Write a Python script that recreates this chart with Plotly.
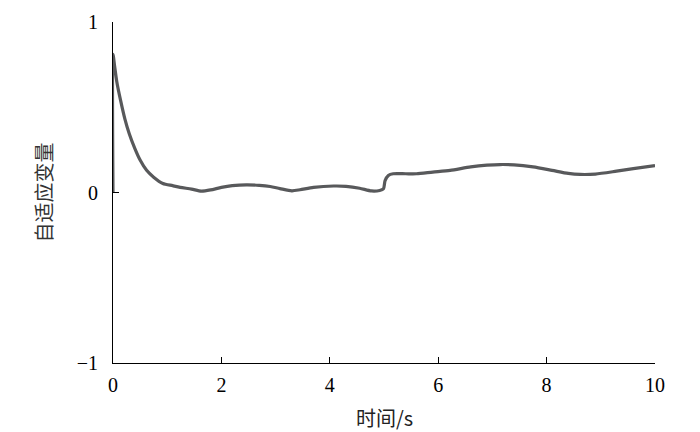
import plotly.graph_objects as go

t = [0, 0, 0.03, 0.07, 0.14, 0.22, 0.30, 0.40, 0.50, 0.62, 0.75, 0.92, 1.1, 1.24, 1.45, 1.63,
     1.8, 2.0, 2.2, 2.46, 2.7, 2.9, 3.08, 3.3, 3.45, 3.7, 4.07, 4.3, 4.55, 4.77, 4.92,
     4.99, 5.02, 5.08, 5.17, 5.4, 5.6, 5.9, 6.22, 6.6, 6.9, 7.14, 7.4, 7.75, 8.1, 8.4,
     8.62, 8.9, 9.29, 9.6, 10]
y = [0, 0.81, 0.74, 0.65, 0.54, 0.43, 0.344, 0.26, 0.19, 0.13, 0.09, 0.053, 0.04, 0.03, 0.02, 0.008,
     0.015, 0.03, 0.04, 0.045, 0.042, 0.035, 0.023, 0.01, 0.016, 0.03, 0.038, 0.036, 0.025, 0.009, 0.012,
     0.022, 0.07, 0.10, 0.11, 0.11, 0.11, 0.12, 0.13, 0.15, 0.16, 0.164, 0.162, 0.15, 0.13, 0.112,
     0.106, 0.108, 0.125, 0.14, 0.158]

xticks = [0, 2, 4, 6, 8, 10]
yticks = [-1, 0, 1]
ytick_text = ["\u22121", "0", "1"]
x_title = "时间/s"
y_title = "自适应变量"

fig = go.Figure(go.Scatter(x=t, y=y, mode="lines",
                           line=dict(color="#58595b", width=3.2, shape="spline", smoothing=0.7)))

serif = "Liberation Serif"
cjk = "Noto Sans CJK SC"
# the page body adds an 8px offset, so the figure is 692x424 drawn at (8, 8)
fig.update_layout(
    width=692, height=424,
    margin=dict(l=105, r=45, t=14, b=69, autoexpand=False),
    plot_bgcolor="white", paper_bgcolor="white",
    showlegend=False,
    font=dict(family=serif, size=20, color="black"),
)
fig.update_xaxes(range=[0, 10], tickvals=xticks, showline=True, linecolor="black", linewidth=1,
                 ticks="inside", ticklen=6, tickcolor="black", showgrid=False, zeroline=False,
                 automargin=False, tickfont=dict(family=serif, size=20, color="black"),
                 ticklabelstandoff=4)
fig.update_yaxes(range=[-1, 1], tickvals=yticks, ticktext=ytick_text, showline=True, linecolor="black",
                 linewidth=1, ticks="inside", ticklen=6, tickcolor="black", showgrid=False, zeroline=False,
                 automargin=False, tickfont=dict(family=serif, size=20, color="black"),
                 ticklabelstandoff=10)
fig.add_annotation(text=x_title, xref="paper", yref="paper", x=0.5, y=0, yshift=-54,
                   xanchor="center", yanchor="middle", showarrow=False,
                   font=dict(family=cjk, size=20, color="#222222"))
fig.add_annotation(text=y_title, xref="paper", yref="paper", x=0, y=0.5, xshift=-70,
                   xanchor="center", yanchor="middle", textangle=-90, showarrow=False,
                   font=dict(family=cjk, size=20, color="#333333"))

fig.write_html("out.html")
